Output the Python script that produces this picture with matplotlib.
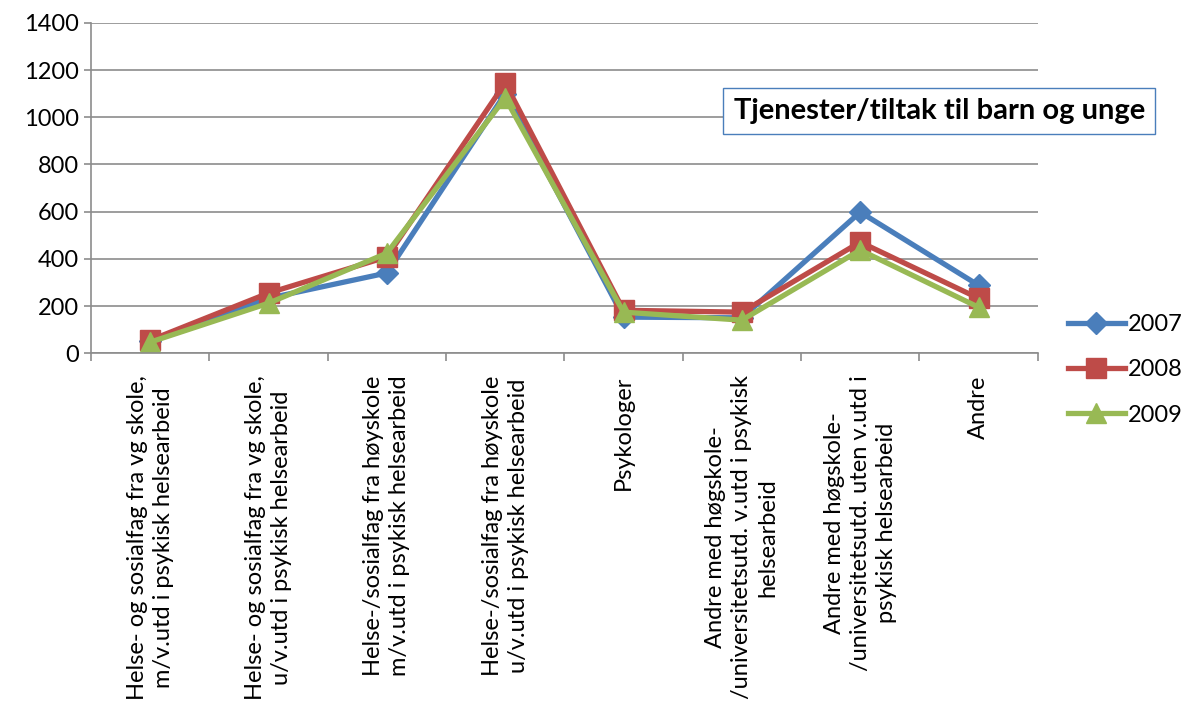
import matplotlib.pyplot as plt
import numpy as np

plt.rcParams['font.family'] = ['Lato', 'DejaVu Sans']

# categories and values
categories = [
    "Helse- og sosialfag fra vg skole,\nm/v.utd i psykisk helsearbeid",
    "Helse- og sosialfag fra vg skole,\nu/v.utd i psykisk helsearbeid",
    "Helse-/sosialfag fra høyskole\nm/v.utd i psykisk helsearbeid",
    "Helse-/sosialfag fra høyskole\nu/v.utd i psykisk helsearbeid",
    "Psykologer",
    "Andre med høgskole-\n/universitetsutd. v.utd i psykisk\nhelsearbeid",
    "Andre med høgskole-\n/universitetsutd. uten v.utd i\npsykisk helsearbeid",
    "Andre",
]
years = ["2007", "2008", "2009"]
v2007 = [50, 233, 340, 1100, 153, 150, 598, 288]
v2008 = [55, 255, 408, 1145, 182, 174, 471, 233]
v2009 = [47, 212, 424, 1082, 174, 140, 437, 195]

colors = ["#4A7EBB", "#BE4B48", "#98B954"]
markers = ["D", "s", "^"]
msizes = [11, 14, 15]

fig = plt.figure(figsize=(11.9, 7.15), dpi=100)
ax = fig.add_axes([0.0765, 0.506, 0.7955, 0.462])

x = np.arange(len(categories))
for vals, name, c, m, ms in zip([v2007, v2008, v2009], years, colors, markers, msizes):
    ax.plot(x, vals, color=c, marker=m, markersize=ms, linewidth=3.8,
            label=name, solid_joinstyle='round')

ax.set_xlim(-0.5, len(categories) - 0.5)
ax.set_ylim(0, 1400)
ax.set_yticks(range(0, 1401, 200))
ax.yaxis.grid(True, color="#8C8C8C", linewidth=1.2)
ax.set_axisbelow(True)

ax.set_xticks(x)
ax.set_xticklabels(categories, rotation=90, ha='center', va='top',
                   multialignment='center', fontsize=17, linespacing=1.3)
ax.set_xticks(np.arange(-0.5, len(categories)), minor=True)
ax.tick_params(axis='x', which='major', length=0, pad=16)
ax.tick_params(axis='x', which='minor', length=6, color="#8C8C8C", width=1.2)
ax.tick_params(axis='y', length=5, color="#8C8C8C", width=1.2, labelsize=17)

for s in ['top', 'right']:
    ax.spines[s].set_visible(False)
for s in ['left', 'bottom']:
    ax.spines[s].set_color("#8C8C8C")
    ax.spines[s].set_linewidth(1.2)

fig.legend(loc='upper left', bbox_to_anchor=(1068 / 1190, 1 - 314 / 715),
           frameon=False, fontsize=17, handlelength=2.4, labelspacing=1.03,
           borderaxespad=0, borderpad=0, handletextpad=0.15)

fig.text(0.6165, 0.845, "Tjenester/tiltak til barn og unge", fontsize=21,
         fontweight='bold', va='center', ha='left',
         bbox=dict(boxstyle='square,pad=0.35', facecolor='white',
                   edgecolor='#4A7EBB', linewidth=1))

fig.savefig("out.png", dpi=100)
